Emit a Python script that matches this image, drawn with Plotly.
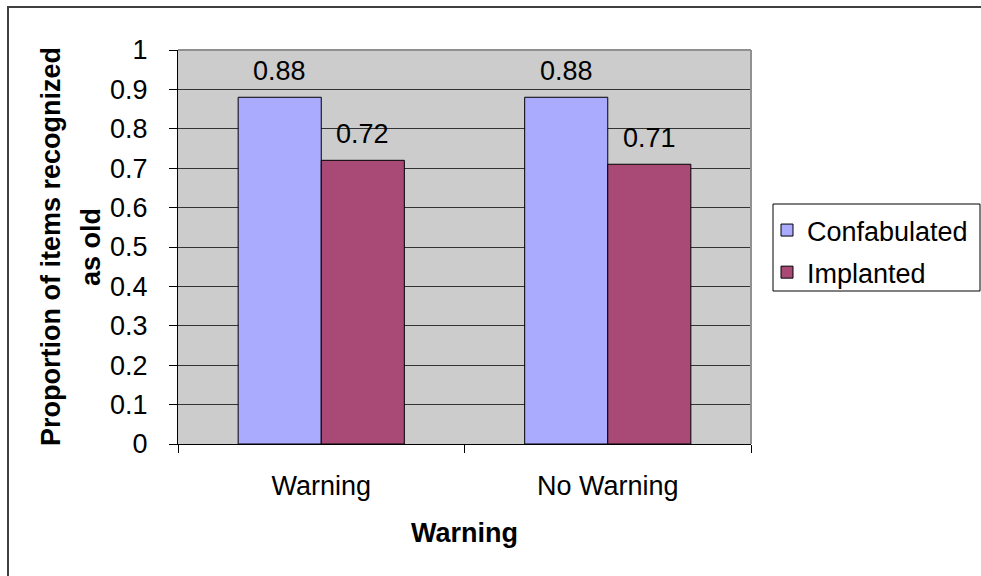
import plotly.graph_objects as go

categories = ["Warning", "No Warning"]
confabulated = [0.88, 0.88]
implanted = [0.72, 0.71]
series_names = ["Confabulated", "Implanted"]
y_ticks = [0, 0.1, 0.2, 0.3, 0.4, 0.5, 0.6, 0.7, 0.8, 0.9, 1]
y_title_lines = ["Proportion of items recognized", "as old"]
x_title = "Warning"

FONT = "Liberation Sans, Arial, sans-serif"
FS = 27
BLUE = "#AAAAFF"
PURPLE = "#A94A76"
BARGAP = 0.42

# pixel geometry of the plot area
L, R, T, B, W, H = 178, 751, 50, 444, 981, 576
PW, PH = R - L, B - T


def px(x):
    return (x - L) / PW


def py(y):
    return (B - y) / PH


fig = go.Figure()
fig.add_trace(go.Bar(name=series_names[0], x=categories, y=confabulated,
                     legendgroup="a",
                     marker=dict(color=BLUE, line=dict(color="black", width=1))))
fig.add_trace(go.Bar(name=series_names[1], x=categories, y=implanted,
                     legendgroup="b",
                     marker=dict(color=PURPLE, line=dict(color="black", width=1))))

# data labels above bars
half = (1 - BARGAP) / 4
annotations = []
for i, cat in enumerate(categories):
    for off, vals in ((-half, confabulated), (half, implanted)):
        annotations.append(dict(x=i + off, y=vals[i], xref="x", yref="y",
                                text=f"{vals[i]:.2f}", showarrow=False,
                                yanchor="bottom", yshift=9,
                                font=dict(family=FONT, size=FS, color="black")))

# y axis title (two lines)
for cx, line in zip((51, 91), y_title_lines):
    annotations.append(dict(x=px(cx), y=0.5, xref="paper", yref="paper",
                            text=f"<b>{line}</b>", textangle=-90, showarrow=False,
                            xanchor="center", yanchor="middle",
                            font=dict(family=FONT, size=FS, color="black")))

fig.update_layout(
    width=W, height=H,
    margin=dict(l=L, r=W - R, t=T, b=H - B, autoexpand=False),
    paper_bgcolor="white",
    plot_bgcolor="#CCCCCC",
    barmode="group", bargap=BARGAP, bargroupgap=0,
    font=dict(family=FONT, size=FS, color="black"),
    annotations=annotations,
    legend=dict(x=px(767), y=py(206), xanchor="left", yanchor="top",
                borderwidth=0, bgcolor="rgba(0,0,0,0)",
                font=dict(family=FONT, size=FS, color="black"),
                traceorder="grouped", tracegroupgap=4),
    shapes=[
        # outer chart border (only top/left visible in the crop)
        dict(type="rect", xref="paper", yref="paper",
             x0=px(8), x1=2, y0=-1, y1=py(7),
             line=dict(color="#404040", width=2), layer="above"),
        # legend box
        dict(type="rect", xref="paper", yref="paper",
             x0=px(773), x1=px(980), y0=py(291), y1=py(204),
             line=dict(color="black", width=1), fillcolor="white", layer="below"),
        # plot area top and right edges
        dict(type="line", xref="paper", yref="paper", x0=0, x1=1, y0=1, y1=1,
             line=dict(color="#909090", width=2), layer="above"),
        dict(type="line", xref="paper", yref="paper", x0=1, x1=1, y0=0, y1=1,
             line=dict(color="#909090", width=2), layer="above"),
    ],
)

fig.update_xaxes(
    type="category", tickson="boundaries", ticks="outside", ticklen=8,
    tickcolor="black", showline=True, linecolor="black", linewidth=1,
    showgrid=False, ticklabelstandoff=18,
    tickfont=dict(family=FONT, size=FS),
    title=dict(text=f"<b>{x_title}</b>", font=dict(family=FONT, size=FS), standoff=22),
)
fig.update_yaxes(
    range=[0, 1], tickvals=y_ticks, ticktext=[f"{v:g}" for v in y_ticks],
    ticks="outside", ticklen=8, tickcolor="black",
    showline=True, linecolor="black", linewidth=1,
    showgrid=True, gridcolor="#333333", gridwidth=1, zeroline=False,
    tickfont=dict(family=FONT, size=FS), ticklabelstandoff=16,
)

fig.write_html("out.html",
               config={"displayModeBar": False},
               post_script="document.body.style.margin='0';"
                           "document.body.style.overflow='hidden';")
